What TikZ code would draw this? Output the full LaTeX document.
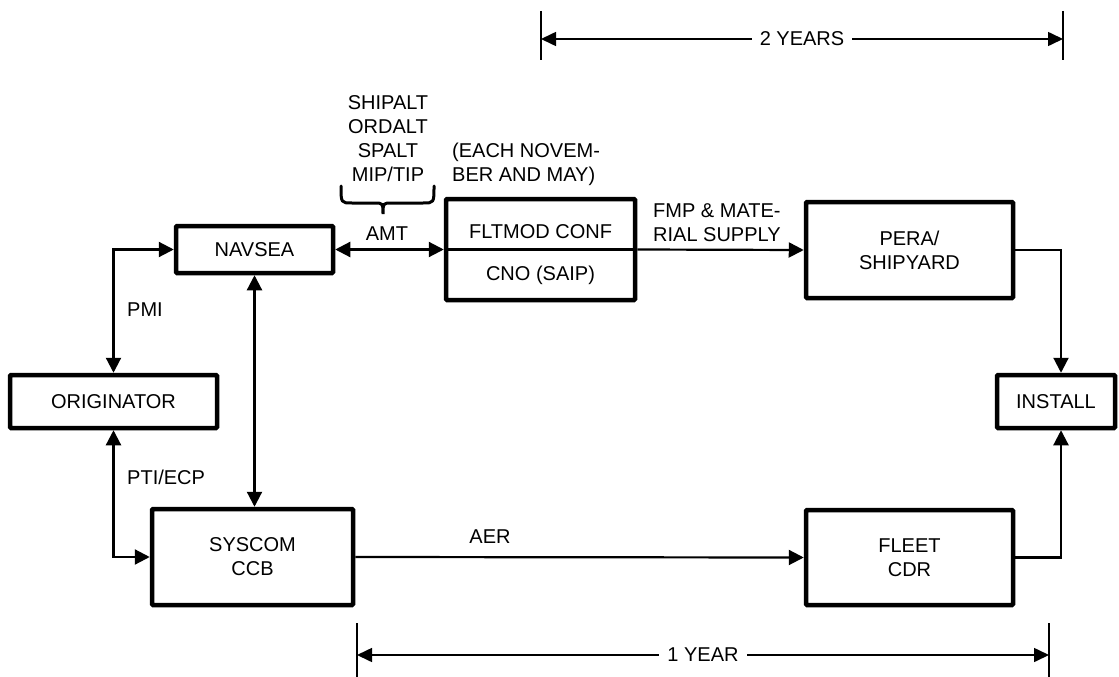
\documentclass[tikz,border=0pt]{standalone}
\usepackage{fontspec}
\setmainfont{Liberation Sans}
\usetikzlibrary{arrows.meta}
\usetikzlibrary{positioning}

\begin{document}
\begin{tikzpicture}[x=1pt, y=-1pt,
    every node/.style={font=\fontsize{20}{24}\selectfont, inner sep=0pt},
    box/.style={draw, line width=4.5pt, rounded corners=1pt, align=center},
    link/.style={line width=2.2pt, -{Triangle[length=15pt,width=15pt]}},
    dbl/.style={line width=2.2pt, {Triangle[length=15pt,width=15pt]}-{Triangle[length=15pt,width=15pt]}},
    dim/.style={line width=1.6pt, {Triangle[length=15pt,width=14pt]}-{Triangle[length=15pt,width=14pt]}},
    tickline/.style={line width=1.6pt},
    lbl/.style={align=left, anchor=west}]
          \useasboundingbox (0,0) rectangle (1119,677);

          % boxes
          \node [box, minimum width=157pt, minimum height=47pt] (navsea) at (254.5,249.5) {NAVSEA};
          \node [box, minimum width=207pt, minimum height=53pt] (orig) at (113.5,401.5) {ORIGINATOR};
          \node [box, minimum width=201pt, minimum height=96pt] (syscom) at (252.5,557) {SYSCOM\\CCB};
          \node [box, minimum width=189pt, minimum height=101pt] (fltmod) at (540.5,249.5) {};
          \node (fltconf) at (540.5,232) {FLTMOD CONF};
          \node (cno) at (540.5,275) {CNO (SAIP)};
          \node [box, minimum width=207pt, minimum height=96pt] (pera) at (909.5,250) {PERA/\\SHIPYARD};
          \node [box, minimum width=118pt, minimum height=53pt] (install) at (1056,401.5) {INSTALL};
          \node [box, minimum width=207pt, minimum height=95pt] (fleet) at (909.5,557.5) {FLEET\\CDR};

          % connectors
          \draw [line width=2.2pt] (fltmod.west) -- (fltmod.east);
          \draw [dbl] (navsea.west) -| (orig.north);
          \draw [dbl] (orig.south) |- (syscom.west);
          \draw [dbl] (navsea.south) -- (navsea.south |- syscom.north);
          \draw [dbl] (navsea.east) -- (fltmod.west);
          \draw [link] (fltmod.east) -- (pera.west);
          \draw [link] (syscom.east) -- (fleet.west);
          \draw [link] (pera.east) -| ([xshift=5pt]install.north);
          \draw [link] (fleet.east) -| ([xshift=5pt]install.south);

          % labels
          \node [lbl] (pmi) at (127,310) {PMI};
          \node [lbl] (pti) at (127,477) {PTI/ECP};
          \node (amt) at (387,234) {AMT};
          \node (aer) at (490,537) {AER};
          \node [align=center] (alts) at (388,139) {SHIPALT\\ORDALT\\SPALT\\MIP/TIP};
          \node [lbl] (each) at (452,164) {(EACH NOVEM-\\BER AND MAY)};
          \node [lbl] (fmp) at (653,223) {FMP \& MATE-\\RIAL SUPPLY};
          \draw [line width=3pt, line cap=round] (341,186) .. controls (341,203) .. (352,203) -- (374,203)
                .. controls (383,203) .. (383,214) .. controls (383,203) .. (392,203) -- (423,203)
                .. controls (434,203) .. (434,186);

          % time spans
          \coordinate (twoL) at (541,39);
          \coordinate (twoR) at (1063,39);
          \draw [tickline] (twoL) ++(0,-28) -- ++(0,49);
          \draw [tickline] (twoR) ++(0,-28) -- ++(0,49);
          \draw [dim] (twoL) -- (twoR) node [midway, fill=white, inner xsep=8pt, inner ysep=2pt] {2 YEARS};

          \coordinate (oneL) at (357,655);
          \coordinate (oneR) at (1049,655);
          \draw [tickline] (oneL) ++(0,-32) -- ++(0,54);
          \draw [tickline] (oneR) ++(0,-32) -- ++(0,54);
          \draw [dim] (oneL) -- (oneR) node [midway, fill=white, inner xsep=8pt, inner ysep=2pt] {1 YEAR};
        \end{tikzpicture}
\end{document}
